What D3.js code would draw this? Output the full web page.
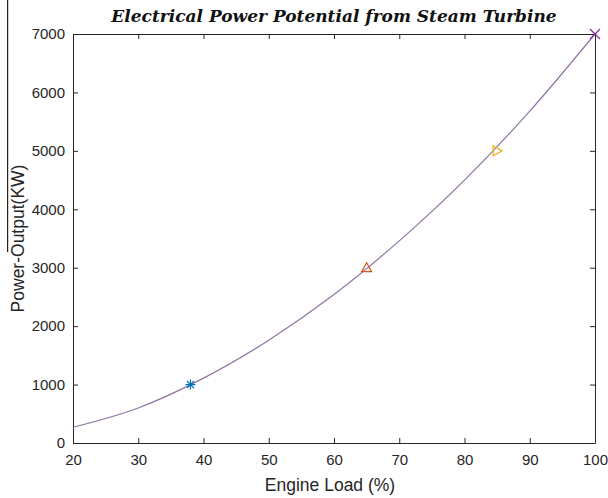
<!DOCTYPE html>
<html>
<head>
<meta charset="utf-8">
<script src="https://cdn.jsdelivr.net/npm/d3@7"></script>
<style>
  body { margin: 0; background: #fff; }
  svg { display: block; }
</style>
</head>
<body>
<svg></svg>
<script>
// curve
const loadCurve = [20, 30, 40, 50, 60, 70, 80, 90, 100];
const powerCurve = [270, 600, 1110, 1760, 2540, 3460, 4500, 5680, 7000];

// measured points
const pointLoad = [38, 65, 85, 100];
const pointPower = [1000, 3000, 5000, 7000];
const pointShapes = ["asterisk", "triUp", "triRight", "cross"];
const pointColors = ["#0072BD", "#D95319", "#EDB120", "#7E2F8E"];

const xTicks = [20, 30, 40, 50, 60, 70, 80, 90, 100];
const yTicks = [0, 1000, 2000, 3000, 4000, 5000, 6000, 7000];

const width = 608, height = 498;
const margin = { top: 34, right: 13, bottom: 55, left: 73 };

const svg = d3.select("svg").attr("width", width).attr("height", height);

// stray border line at the left of the scanned figure
svg.append("rect")
  .attr("x", 7).attr("y", 0)
  .attr("width", 1.2).attr("height", 252)
  .attr("fill", "#222");

const x = d3.scaleLinear().domain([20, 100]).range([margin.left, width - margin.right]);
const y = d3.scaleLinear().domain([0, 7000]).range([height - margin.bottom, margin.top]);

const axisColor = "#262626";
const tickFont = "15px 'Liberation Sans', Arial, sans-serif";

const drawAxis = function(axis, tx, ty, showLabels) {
  const g = svg.append("g")
    .attr("transform", `translate(${tx},${ty})`)
    .call(axis);
  g.select(".domain").attr("stroke", axisColor);
  g.selectAll(".tick line").attr("stroke", axisColor);
  g.selectAll(".tick text")
    .style("font", tickFont)
    .attr("fill", axisColor)
    .style("display", showLabels ? null : "none");
  return g;
};

const innerH = height - margin.top - margin.bottom;
const fmt = d3.format("d");

drawAxis(d3.axisBottom(x).tickValues(xTicks).tickSizeInner(-5).tickSizeOuter(0).tickPadding(11).tickFormat(fmt),
  0, height - margin.bottom, true);
drawAxis(d3.axisTop(x).tickValues(xTicks).tickSizeInner(-5).tickSizeOuter(0).tickFormat(""),
  0, margin.top, false);
drawAxis(d3.axisLeft(y).tickValues(yTicks).tickSizeInner(-5).tickSizeOuter(0).tickPadding(8).tickFormat(fmt),
  margin.left, 0, true);
drawAxis(d3.axisRight(y).tickValues(yTicks).tickSizeInner(-5).tickSizeOuter(0).tickFormat(""),
  width - margin.right, 0, false);

// fitted curve
const curveData = loadCurve.map((d, i) => [d, powerCurve[i]]);
const line = d3.line()
  .x(d => x(d[0]))
  .y(d => y(d[1]))
  .curve(d3.curveMonotoneX);

svg.append("path")
  .datum(curveData)
  .attr("d", line)
  .attr("fill", "none")
  .attr("stroke", "#8f74a0")
  .attr("stroke-width", 1.2);

// markers
const symbolPath = function(shape) {
  const s = 5;
  if (shape === "asterisk") {
    const d = s * 0.707;
    return `M${-s},0L${s},0M0,${-s}L0,${s}M${-d},${-d}L${d},${d}M${-d},${d}L${d},${-d}`;
  }
  if (shape === "triUp") return `M0,${-s}L${s},${s * 0.8}L${-s},${s * 0.8}Z`;
  if (shape === "triRight") return `M${s},0L${-s * 0.8},${-s}L${-s * 0.8},${s}Z`;
  return `M${-s},${-s}L${s},${s}M${-s},${s}L${s},${-s}`;
};

svg.append("g")
  .selectAll("path")
  .data(pointLoad)
  .join("path")
  .attr("transform", (d, i) => `translate(${x(d)},${y(pointPower[i])})`)
  .attr("d", (d, i) => symbolPath(pointShapes[i]))
  .attr("fill", "none")
  .attr("stroke", (d, i) => pointColors[i])
  .attr("stroke-width", 1.2);

// title and axis labels
svg.append("text")
  .attr("x", 334)
  .attr("y", 22)
  .attr("text-anchor", "middle")
  .style("font", "italic bold 17px 'DejaVu Serif', Georgia, serif")
  .attr("fill", "#111")
  .text("Electrical Power Potential from Steam Turbine");

svg.append("text")
  .attr("x", 330)
  .attr("y", 491)
  .attr("text-anchor", "middle")
  .style("font", "17.5px 'Liberation Sans', Arial, sans-serif")
  .attr("fill", axisColor)
  .text("Engine Load (%)");

svg.append("text")
  .attr("transform", `translate(24,${margin.top + innerH / 2}) rotate(-90)`)
  .attr("text-anchor", "middle")
  .style("font", "17.5px 'Liberation Sans', Arial, sans-serif")
  .attr("fill", axisColor)
  .text("Power-Output(KW)");
</script>
</body>
</html>
